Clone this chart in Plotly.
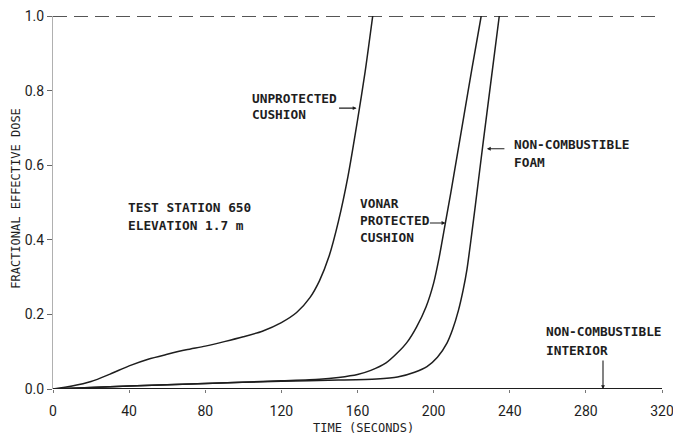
import plotly.graph_objects as go

# Time (s) and fractional effective dose for each furnishing
unprot_t = [0, 10, 20, 30, 40, 50, 60, 70, 80, 90, 100, 110, 120, 128, 135, 140, 145, 150, 155, 160, 164, 168]
unprot_d = [0, 0.008, 0.02, 0.04, 0.062, 0.08, 0.093, 0.105, 0.115, 0.127, 0.14, 0.155, 0.178, 0.205, 0.245, 0.29, 0.355, 0.45, 0.57, 0.72, 0.85, 1.0]

vonar_t = [0, 40, 80, 120, 140, 150, 160, 167, 175, 181, 186, 191, 196, 200, 203, 206, 209, 212, 216, 220, 225]
vonar_d = [0, 0.008, 0.015, 0.022, 0.026, 0.031, 0.039, 0.05, 0.07, 0.097, 0.125, 0.166, 0.22, 0.284, 0.355, 0.44, 0.525, 0.615, 0.735, 0.855, 1.0]

foam_t = [0, 40, 80, 120, 150, 170, 181, 190, 196.5, 202, 207, 210, 213, 215.5, 217.5, 220, 222, 226, 230, 234.5]
foam_d = [0, 0.008, 0.015, 0.021, 0.024, 0.027, 0.032, 0.045, 0.06, 0.085, 0.123, 0.16, 0.21, 0.265, 0.32, 0.415, 0.495, 0.66, 0.82, 1.0]

interior_t = [0, 320]
interior_d = [0, 0]

limit_t = [0, 320]
limit_d = [1.0, 1.0]

x_ticks = [0, 40, 80, 120, 160, 200, 240, 280, 320]
y_ticks = [0.0, 0.2, 0.4, 0.6, 0.8, 1.0]

INK = "#1e1e1e"
MONO = "DejaVu Sans Mono"
TICKFONT = "Roboto, sans-serif"

fig = go.Figure()

fig.add_trace(go.Scatter(x=limit_t, y=limit_d, mode="lines", cliponaxis=False,
                         line=dict(color=INK, width=1.4, dash="14px,7px")))
fig.add_trace(go.Scatter(x=interior_t, y=interior_d, mode="lines", cliponaxis=False,
                         line=dict(color=INK, width=1.8)))
for t, d in [(unprot_t, unprot_d), (vonar_t, vonar_d), (foam_t, foam_d)]:
    fig.add_trace(go.Scatter(x=t, y=d, mode="lines", cliponaxis=False,
                             line=dict(color=INK, width=1.5, shape="spline", smoothing=0.7)))

# Curve labels, one annotation per text line (x in seconds, y in dose units)
labels = [
    ("UNPROTECTED", 103.5, 0.780),
    ("CUSHION", 103.5, 0.735),
    ("TEST STATION 650", 38.5, 0.486),
    ("ELEVATION 1.7 m", 38.5, 0.438),
    ("VONAR", 160.5, 0.498),
    ("PROTECTED", 160.5, 0.451),
    ("CUSHION", 160.5, 0.405),
    ("NON-COMBUSTIBLE", 241, 0.656),
    ("FOAM", 241, 0.608),
    ("NON-COMBUSTIBLE", 258, 0.153),
    ("INTERIOR", 258, 0.104),
]
annotations = [
    dict(text=txt, x=x, y=y, xref="x", yref="y", xanchor="left", yanchor="middle",
         showarrow=False, font=dict(family=MONO, size=12.8, color=INK, weight="bold"))
    for txt, x, y in labels
]

# Pointer arrows (head at the curve, tail offset in pixels)
arrows = [
    (159.5, 0.753, -19, 0),
    (206.2, 0.445, -17, 0),
    (228.0, 0.644, 19, 0),
    (289.0, 0.0, 0, -30),
]
for x, y, ax, ay in arrows:
    annotations.append(dict(text="", x=x, y=y, xref="x", yref="y", ax=ax, ay=ay,
                            axref="pixel", ayref="pixel", showarrow=True,
                            arrowhead=2, arrowsize=0.7, arrowwidth=1.1, arrowcolor=INK))

annotations.append(dict(text="TIME (SECONDS)", x=163, y=0, xref="x", yref="paper",
                        yshift=-39, showarrow=False, xanchor="center", yanchor="middle",
                        font=dict(family=MONO, size=12, color=INK)))
annotations.append(dict(text="FRACTIONAL EFFECTIVE DOSE", x=0, y=0.51, xref="paper", yref="paper",
                        xshift=-37, showarrow=False, textangle=-90, xanchor="center",
                        yanchor="middle", font=dict(family=MONO, size=12, color=INK)))

fig.update_layout(
    width=673, height=443,
    margin=dict(l=53, r=11, t=16, b=54, autoexpand=False),
    paper_bgcolor="white", plot_bgcolor="white",
    showlegend=False,
    annotations=annotations,
    xaxis=dict(range=[0, 320], tickvals=x_ticks, ticktext=[str(v) for v in x_ticks],
               showgrid=False, zeroline=False, showline=False, automargin=False,
               ticks="outside", ticklen=3, tickcolor="#777", ticklabelstandoff=6,
               ticklabeloverflow="allow",
               tickfont=dict(family=TICKFONT, size=14, color=INK)),
    yaxis=dict(range=[0, 1.0], tickvals=y_ticks, ticktext=[f"{v:.1f}" for v in y_ticks],
               showgrid=False, zeroline=False, showline=True, linecolor="#b0b0b0", linewidth=1,
               automargin=False, ticks="outside", ticklen=5, tickcolor="#666",
               tickfont=dict(family=TICKFONT, size=14, color=INK)),
)

fig.write_html("out.html")
